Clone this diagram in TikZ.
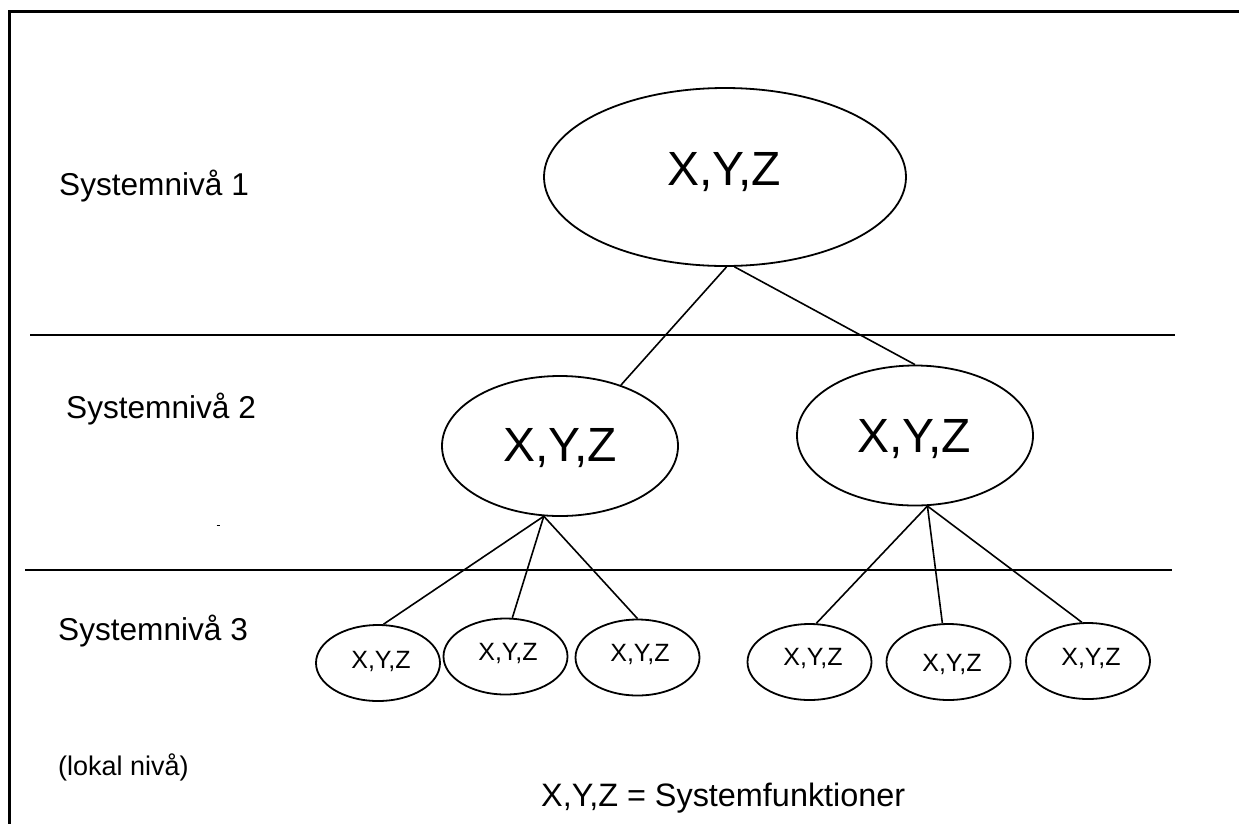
\documentclass[tikz,border=0pt]{standalone}
\usepackage{fontspec}
\setmainfont{Liberation Sans}
\usetikzlibrary{shapes.geometric}
\begin{document}
\begin{tikzpicture}[x=1pt,y=-1pt,
  oval/.style={draw, ellipse, inner sep=0pt, line width=1.8pt},
  bigoval/.style={oval, minimum width=362pt, minimum height=178pt},
  midoval/.style={oval, minimum width=236pt, minimum height=140pt},
  smloval/.style={oval, minimum width=124pt, minimum height=76pt},
  bigtxt/.style={anchor=base, inner sep=0pt, font=\fontsize{48}{50}\selectfont},
  smltxt/.style={anchor=base, inner sep=0pt, font=\fontsize{25}{27}\selectfont},
  lvl/.style={anchor=base west, inner sep=0pt, font=\fontsize{31.6}{33}\selectfont},
  legend/.style={anchor=base west, inner sep=0pt, font=\fontsize{32.4}{34}\selectfont},
  note/.style={anchor=base west, inner sep=0pt, font=\fontsize{27}{29}\selectfont},
  link/.style={line width=1.6pt},
  sep/.style={line width=2pt},
  frame/.style={line width=3pt}
]
\useasboundingbox (0,0) rectangle (1239,823);

% open frame (top and left sides)
\coordinate (fTL) at (9.5,11);
\coordinate (fTR) at (1240,11);
\coordinate (fBL) at (9.5,824);
\draw[frame] (fTR) -- (fTL) -- (fBL);

% level separators
\coordinate (s1a) at (30,335);
\coordinate (s1b) at (1175,335);
\coordinate (s2a) at (25,570);
\coordinate (s2b) at (1172,570);
\draw[sep] (s1a) -- (s1b);
\draw[sep] (s2a) -- (s2b);

% level labels
\node[lvl] (n1) at (59,195) {Systemnivå 1};
\node[lvl] (n2) at (66,418) {Systemnivå 2};
\node[lvl] (n3) at (58,640) {Systemnivå 3};
\node[note] (loc) at (58,775) {(lokal nivå)};
\node[legend] (leg) at (541,806) {X,Y,Z = Systemfunktioner};

% small mark
\draw[line width=1pt] (216.5,525) -- (219.5,525);

% level 1
\node[bigoval] (top) at (725,177) {};
\node[bigtxt] (ttop) at (724,185) {X,Y,Z};

% level 2
\node[midoval] (l2a) at (560,446) {};
\node[bigtxt] (tl2a) at (560,461) {X,Y,Z};
\node[midoval] (l2b) at (915,435.5) {};
\node[bigtxt] (tl2b) at (914,452) {X,Y,Z};

% level 3
\node[smloval] (e1) at (378,663) {};
\node[smltxt] (t1) at (381,668) {X,Y,Z};
\node[smloval] (e2) at (505.5,656.5) {};
\node[smltxt] (t2) at (508,660) {X,Y,Z};
\node[smloval] (e3) at (637.5,657.5) {};
\node[smltxt] (t3) at (640,661.5) {X,Y,Z};
\node[smloval] (e4) at (809.5,662) {};
\node[smltxt] (t4) at (813,665) {X,Y,Z};
\node[smloval] (e5) at (948.5,662) {};
\node[smltxt] (t5) at (952,671.5) {X,Y,Z};
\node[smloval] (e6) at (1088,661) {};
\node[smltxt] (t6) at (1091,665) {X,Y,Z};

% connectors
\draw[link] (top.271) -- (l2a.45);
\draw[link] (top.276) -- (l2b.north);
\draw[link] (l2a.257) -- (e1.82);
\draw[link] (l2a.257) -- (e2.80);
\draw[link] (l2a.257) -- (e3.north);
\draw[link] (l2b.280) -- (e4.80);
\draw[link] (l2b.280) -- (e5.99);
\draw[link] (l2b.280) -- (e6.99);
\end{tikzpicture}
\end{document}
